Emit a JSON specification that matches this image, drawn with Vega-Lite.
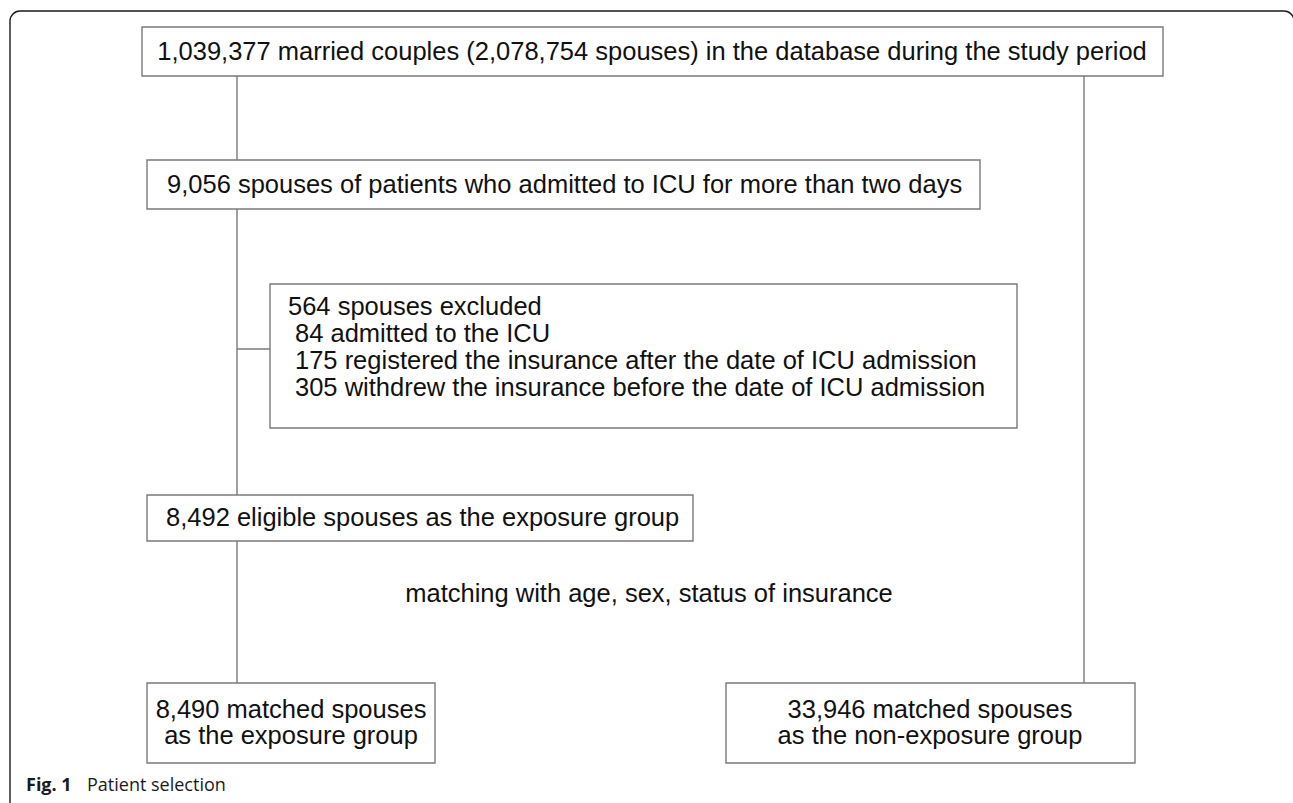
{
  "$schema": "https://vega.github.io/schema/vega-lite/v6.json",
  "width": 1293,
  "height": 803,
  "autosize": {"type": "fit", "contains": "padding"},
  "padding": 0,
  "background": "white",
  "config": {"view": {"stroke": null}},
  "datasets": {
    "frame": [{"x": 10, "x2": 1294, "y": 11, "y2": 830}],
    "boxes": [
      {"id": "b1", "x": 142, "x2": 1163, "y": 27, "y2": 76},
      {"id": "b2", "x": 147, "x2": 980, "y": 160, "y2": 209},
      {"id": "b3", "x": 270, "x2": 1017, "y": 284, "y2": 428},
      {"id": "b4", "x": 147, "x2": 693, "y": 495, "y2": 541},
      {"id": "b5", "x": 147, "x2": 435, "y": 683, "y2": 763},
      {"id": "b6", "x": 726, "x2": 1135, "y": 683, "y2": 763}
    ],
    "lines": [
      {"x": 237, "x2": 237, "y": 76, "y2": 160},
      {"x": 237, "x2": 237, "y": 209, "y2": 495},
      {"x": 237, "x2": 270, "y": 349, "y2": 349},
      {"x": 237, "x2": 237, "y": 541, "y2": 683},
      {"x": 1084, "x2": 1084, "y": 76, "y2": 683}
    ],
    "centered": [
      {"x": 652, "y": 52, "label": "1,039,377 married couples (2,078,754 spouses) in the database during the study period"},
      {"x": 649, "y": 594, "label": "matching with age, sex, status of insurance"},
      {"x": 291, "y": 710, "label": "8,490 matched spouses"},
      {"x": 291, "y": 736, "label": "as the exposure group"},
      {"x": 930, "y": 710, "label": "33,946 matched spouses"},
      {"x": 930, "y": 736, "label": "as the non-exposure group"}
    ],
    "lefttext": [
      {"x": 167, "y": 185, "label": "9,056 spouses of patients who admitted to ICU for more than two days"},
      {"x": 288, "y": 307, "label": "564 spouses excluded"},
      {"x": 295, "y": 334, "label": "84 admitted to the ICU"},
      {"x": 295, "y": 361, "label": "175 registered the insurance after the date of ICU admission"},
      {"x": 295, "y": 388, "label": "305 withdrew the insurance before the date of ICU admission"},
      {"x": 166, "y": 518, "label": "8,492 eligible spouses as the exposure group"}
    ],
    "captionBold": [{"x": 26, "y": 786, "label": "Fig. 1"}],
    "captionText": [{"x": 87, "y": 786, "label": "Patient selection"}]
  },
  "layer": [
    {
      "data": {"name": "frame"},
      "mark": {"type": "rect", "fill": null, "stroke": "#1a1a1a", "strokeWidth": 1.4, "cornerRadius": 10, "clip": true},
      "encoding": {
        "x": {"field": "x", "type": "quantitative", "scale": {"domain": [0, 1293], "nice": false, "zero": false}, "axis": null},
        "x2": {"field": "x2"},
        "y": {"field": "y", "type": "quantitative", "scale": {"domain": [0, 803], "nice": false, "zero": false, "reverse": true}, "axis": null},
        "y2": {"field": "y2"}
      }
    },
    {
      "data": {"name": "lines"},
      "mark": {"type": "rule", "stroke": "#7a7a7a", "strokeWidth": 1.4},
      "encoding": {
        "x": {"field": "x", "type": "quantitative"},
        "x2": {"field": "x2"},
        "y": {"field": "y", "type": "quantitative"},
        "y2": {"field": "y2"}
      }
    },
    {
      "data": {"name": "boxes"},
      "mark": {"type": "rect", "fill": "white", "stroke": "#7a7a7a", "strokeWidth": 1.4},
      "encoding": {
        "x": {"field": "x", "type": "quantitative"},
        "x2": {"field": "x2"},
        "y": {"field": "y", "type": "quantitative"},
        "y2": {"field": "y2"}
      }
    },
    {
      "data": {"name": "centered"},
      "mark": {"type": "text", "font": "Liberation Sans", "fontSize": 25.5, "color": "#111111", "align": "center", "baseline": "middle"},
      "encoding": {
        "x": {"field": "x", "type": "quantitative"},
        "y": {"field": "y", "type": "quantitative"},
        "text": {"field": "label"}
      }
    },
    {
      "data": {"name": "lefttext"},
      "mark": {"type": "text", "font": "Liberation Sans", "fontSize": 25.5, "color": "#111111", "align": "left", "baseline": "middle"},
      "encoding": {
        "x": {"field": "x", "type": "quantitative"},
        "y": {"field": "y", "type": "quantitative"},
        "text": {"field": "label"}
      }
    },
    {
      "data": {"name": "captionBold"},
      "mark": {"type": "text", "font": "Open Sans", "fontSize": 18, "fontWeight": "bold", "color": "#1a1a1a", "align": "left", "baseline": "middle"},
      "encoding": {
        "x": {"field": "x", "type": "quantitative"},
        "y": {"field": "y", "type": "quantitative"},
        "text": {"field": "label"}
      }
    },
    {
      "data": {"name": "captionText"},
      "mark": {"type": "text", "font": "Open Sans", "fontSize": 18, "color": "#1a1a1a", "align": "left", "baseline": "middle"},
      "encoding": {
        "x": {"field": "x", "type": "quantitative"},
        "y": {"field": "y", "type": "quantitative"},
        "text": {"field": "label"}
      }
    }
  ]
}
